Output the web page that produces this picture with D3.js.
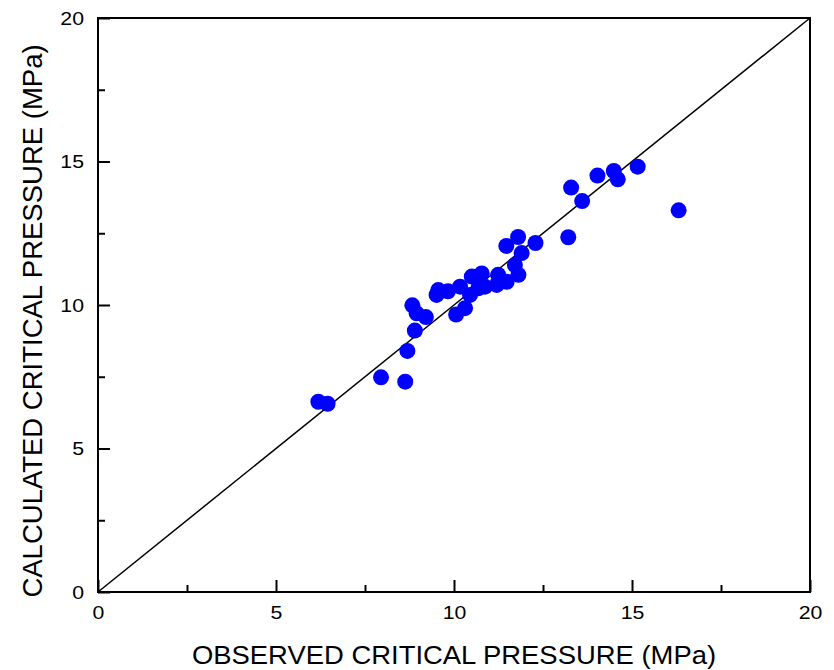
<!DOCTYPE html>
<html>
<head>
<meta charset="utf-8">
<script src="https://cdn.jsdelivr.net/npm/d3@7"></script>
<style>
  html, body { margin: 0; padding: 0; background: #fff; }
  text { font-family: "Liberation Sans", Arial, sans-serif; fill: #000; }
</style>
</head>
<body>
<svg id="chart" width="834" height="670"></svg>
<script>
// Data
const observed = [6.19, 6.45, 7.95, 8.63, 8.69, 8.90, 8.83, 8.95, 9.21, 9.56,
                  9.51, 9.83, 10.06, 10.31, 10.17, 10.50, 10.78, 10.45, 10.68, 10.87,
                  11.20, 11.24, 11.48, 11.81, 11.71, 11.90, 11.47, 11.80, 12.29, 13.21,
                  13.29, 13.60, 14.03, 14.49, 14.60, 15.16, 16.31];
const calculated = [6.63, 6.56, 7.48, 7.33, 8.40, 9.11, 9.99, 9.71, 9.58, 10.52,
                    10.35, 10.48, 9.67, 9.89, 10.64, 10.99, 11.10, 10.35, 10.58, 10.64,
                    10.70, 11.05, 10.81, 11.05, 11.39, 11.81, 12.06, 12.37, 12.16, 12.36,
                    14.09, 13.62, 14.51, 14.67, 14.38, 14.82, 13.30];
const majorTicks = [0, 5, 10, 15, 20];
const minorTicks = [2.5, 7.5, 12.5, 17.5];
const diagonal = [0, 20];
const xTitle = "OBSERVED CRITICAL PRESSURE (MPa)";
const yTitle = "CALCULATED CRITICAL PRESSURE (MPa)";

const svg = d3.select("#chart");
const L = 98, R = 810, T = 18, B = 592;
const SX = 1.12; // horizontal stretch of the original lettering

const x = d3.scaleLinear().domain([0, 20]).range([L, R]);
const y = d3.scaleLinear().domain([0, 20]).range([B, T]);

// Frame
svg.append("rect")
  .attr("x", L).attr("y", T).attr("width", R - L).attr("height", B - T)
  .attr("fill", "none").attr("stroke", "#000").attr("stroke-width", 2);

// Bottom axis (ticks pointing inward)
const xAxis = svg.append("g").attr("transform", `translate(0,${B})`)
  .call(d3.axisBottom(x).tickValues(majorTicks).tickSize(-12).tickPadding(14).tickFormat(d3.format("d")));
const xMinor = svg.append("g").attr("transform", `translate(0,${B})`)
  .call(d3.axisBottom(x).tickValues(minorTicks).tickSize(-7).tickFormat(""));

// Left axis
const yAxis = svg.append("g").attr("transform", `translate(${L},0)`)
  .call(d3.axisLeft(y).tickValues(majorTicks).tickSize(-12).tickPadding(14).tickFormat(d3.format("d")));
const yMinor = svg.append("g").attr("transform", `translate(${L},0)`)
  .call(d3.axisLeft(y).tickValues(minorTicks).tickSize(-7).tickFormat(""));

[xAxis, xMinor, yAxis, yMinor].forEach(g => {
  g.select(".domain").remove();
  g.selectAll(".tick line").attr("stroke", "#000").attr("stroke-width", 2);
  g.selectAll(".tick text")
    .attr("font-family", "Liberation Sans, Arial, sans-serif")
    .attr("font-size", 19).attr("fill", "#000");
});
xAxis.selectAll(".tick text").attr("transform", `scale(${SX},1)`);
yAxis.selectAll(".tick text").attr("x", -14 / SX).attr("transform", `scale(${SX},1)`);

// Diagonal 1:1 line
svg.append("line")
  .attr("x1", x(diagonal[0])).attr("y1", y(diagonal[0]))
  .attr("x2", x(diagonal[1])).attr("y2", y(diagonal[1]))
  .attr("stroke", "#000").attr("stroke-width", 1.5);

// Points
svg.append("g").selectAll("circle")
  .data(observed.map((d, i) => [d, calculated[i]]))
  .join("circle")
  .attr("cx", d => x(d[0]))
  .attr("cy", d => y(d[1]))
  .attr("r", 8)
  .attr("fill", "#0000ff");

// Titles
svg.append("text")
  .attr("transform", `translate(454,664) scale(${SX * 0.98},1)`)
  .attr("text-anchor", "middle")
  .attr("font-size", 25)
  .text(xTitle);

svg.append("text")
  .attr("transform", `translate(32,${(T + B) / 2 + 16}) rotate(-90)`)
  .attr("text-anchor", "middle")
  .attr("dy", "0.35em")
  .attr("font-size", 27.5)
  .text(yTitle);
</script>
</body>
</html>
